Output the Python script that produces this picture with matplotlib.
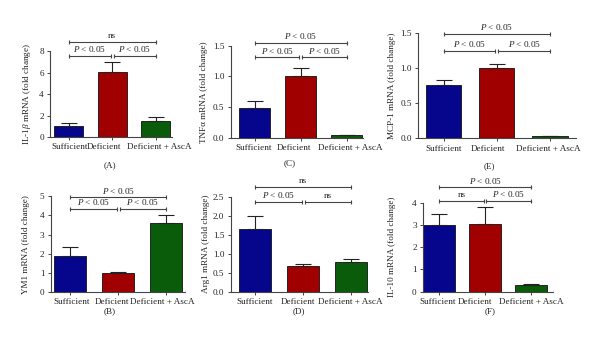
import matplotlib
matplotlib.use("Agg")
import matplotlib.pyplot as plt
import matplotlib.transforms as mtransforms
import numpy as np

plt.rcParams['font.family'] = ['Liberation Serif', 'DejaVu Serif']
plt.rcParams['mathtext.fontset'] = 'custom'
plt.rcParams['mathtext.rm'] = 'Liberation Serif'
plt.rcParams['mathtext.it'] = 'Liberation Serif:italic'

# ---------------- data ----------------
groups = ["Sufficient", "Deficient", "Deficient + AscA"]

il1b_mean = [1.02, 6.07, 1.52]
il1b_sem = [0.25, 0.93, 0.37]

tnfa_mean = [0.49, 1.00, 0.044]
tnfa_sem = [0.11, 0.13, 0.008]

mcp1_mean = [0.76, 1.00, 0.026]
mcp1_sem = [0.07, 0.06, 0.006]

ym1_mean = [1.86, 1.00, 3.59]
ym1_sem = [0.51, 0.06, 0.44]

arg1_mean = [1.66, 0.67, 0.77]
arg1_sem = [0.32, 0.07, 0.10]

il10_mean = [3.02, 3.05, 0.31]
il10_sem = [0.48, 0.77, 0.05]

il1b_ticks = [0, 2, 4, 6, 8]
tnfa_ticks = [0.0, 0.5, 1.0, 1.5]
mcp1_ticks = [0.0, 0.5, 1.0, 1.5]
ym1_ticks = [0, 1, 2, 3, 4, 5]
arg1_ticks = [0.0, 0.5, 1.0, 1.5, 2.0, 2.5]
il10_ticks = [0, 1, 2, 3, 4]

# significance labels: (left pair, right pair, outer)
il1b_sig = ["$P$ < 0.05", "$P$ < 0.05", "ns"]
tnfa_sig = ["$P$ < 0.05", "$P$ < 0.05", "$P$ < 0.05"]
mcp1_sig = ["$P$ < 0.05", "$P$ < 0.05", "$P$ < 0.05"]
ym1_sig = ["$P$ < 0.05", "$P$ < 0.05", "$P$ < 0.05"]
arg1_sig = ["$P$ < 0.05", "ns", "ns"]
il10_sig = ["ns", "$P$ < 0.05", "$P$ < 0.05"]

colors = ["#06068c", "#a00000", "#0a5c0a"]

W, H = 600, 347
fig = plt.figure(figsize=(6, 3.47), dpi=100)
FS = 6.6
TXT = "#222222"
LINE = "#444444"


def rect(x0, x1, ytop, ybot):
    return [x0 / W, 1 - ybot / H, (x1 - x0) / W, (ybot - ytop) / H]


def panel(r, xlim, barw, means, sems, ticks, tickfmt, ylabel, ylab_x, sig,
          lev_lo, lev_hi, letter, letter_xy, lab_shift):
    ax = fig.add_axes(r)
    x = np.arange(len(groups))
    ax.bar(x, means, width=barw, color=colors, edgecolor="#111111",
           linewidth=0.6, zorder=2)
    err = np.array([np.zeros(len(sems)), sems])
    ax.errorbar(x, means, yerr=err, fmt="none", ecolor="#222222",
                elinewidth=0.8, capsize=6, capthick=0.8, zorder=3)
    ax.set_xlim(*xlim)
    ax.set_ylim(ticks[0], ticks[-1])
    ax.set_yticks(ticks)
    ax.set_yticklabels([tickfmt.format(t) for t in ticks])
    ax.set_xticks(x)
    ax.set_xticklabels(groups)
    for s in ["top", "right"]:
        ax.spines[s].set_visible(False)
    for s in ["left", "bottom"]:
        ax.spines[s].set_color(LINE)
        ax.spines[s].set_linewidth(0.8)
    ax.tick_params(axis="both", labelsize=FS, colors=LINE, labelcolor=TXT,
                   length=2.5, width=0.7, pad=2)
    ax.tick_params(axis="x", pad=2)
    for lab, dx in zip(ax.get_xticklabels(), lab_shift):
        off = mtransforms.ScaledTranslation(dx / 100.0, 0, fig.dpi_scale_trans)
        lab.set_transform(lab.get_transform() + off)
    ycen = r[1] + r[3] / 2
    fig.text(ylab_x / W, ycen, ylabel, rotation=90, ha="center", va="center",
             fontsize=FS, color=TXT)

    def bracket(x0, x1, y, label):
        ax.plot([x0, x1], [y, y], color=LINE, lw=0.8, marker="|",
                markersize=3.5, markeredgewidth=0.8, clip_on=False, zorder=4)
        ax.annotate(label, xy=((x0 + x1) / 2, y), xytext=(0, 1.2),
                    textcoords="offset points", ha="center", va="bottom",
                    fontsize=FS, color=TXT, annotation_clip=False)

    bracket(0.0, 0.97, lev_lo, sig[0])
    bracket(1.03, 2.0, lev_lo, sig[1])
    bracket(0.0, 2.0, lev_hi, sig[2])
    fig.text(letter_xy[0] / W, 1 - letter_xy[1] / H, letter, ha="center",
             va="center", fontsize=FS, color=TXT)
    return ax


# (A) IL-1b
panel(rect(50, 172, 51, 137), (-0.43, 2.37), 0.66, il1b_mean, il1b_sem,
      il1b_ticks, "{:.0f}", r"IL-1$\beta$ mRNA (fold change)", 27,
      il1b_sig, 7.53, 8.84, "(A)", (110, 165), (1, -8.5, 3.5))
# (C) TNFa
panel(rect(230.7, 363, 45.7, 137.7), (-0.52, 2.35), 0.67, tnfa_mean, tnfa_sem,
      tnfa_ticks, "{:.1f}", "TNFα mRNA (fold change)", 204,
      tnfa_sig, 1.311, 1.549, "(C)", (290, 163), (-1, -6.5, 3))
# (E) MCP-1
panel(rect(418, 576, 33.3, 138.3), (-0.486, 2.49), 0.66, mcp1_mean, mcp1_sem,
      mcp1_ticks, "{:.1f}", "MCP-1 mRNA (fold change)", 392,
      mcp1_sig, 1.247, 1.49, "(E)", (489, 166), (0, -9, -2))
# (B) YM1
panel(rect(50.7, 185, 196.3, 292), (-0.40, 2.39), 0.675, ym1_mean, ym1_sem,
      ym1_ticks, "{:.0f}", "YM1 mRNA (fold change)", 26,
      ym1_sig, 4.34, 4.95, "(B)", (110, 311.5), (2, -6, -3.5))
# (D) Arg1
panel(rect(230.7, 368, 196.7, 291.7), (-0.51, 2.35), 0.67, arg1_mean, arg1_sem,
      arg1_ticks, "{:.1f}", "Arg1 mRNA (fold change)", 206,
      arg1_sig, 2.37, 2.76, "(D)", (299, 311.5), (-1, -5, -1))
# (F) IL-10
panel(rect(423, 553, 202.7, 291.7), (-0.354, 2.48), 0.69, il10_mean, il10_sem,
      il10_ticks, "{:.0f}", "IL-10 mRNA (fold change)", 392,
      il10_sig, 4.09, 4.69, "(F)", (490.5, 311.5), (-2, -10.5, 0))

fig.savefig("out.png", dpi=100, facecolor="white")
